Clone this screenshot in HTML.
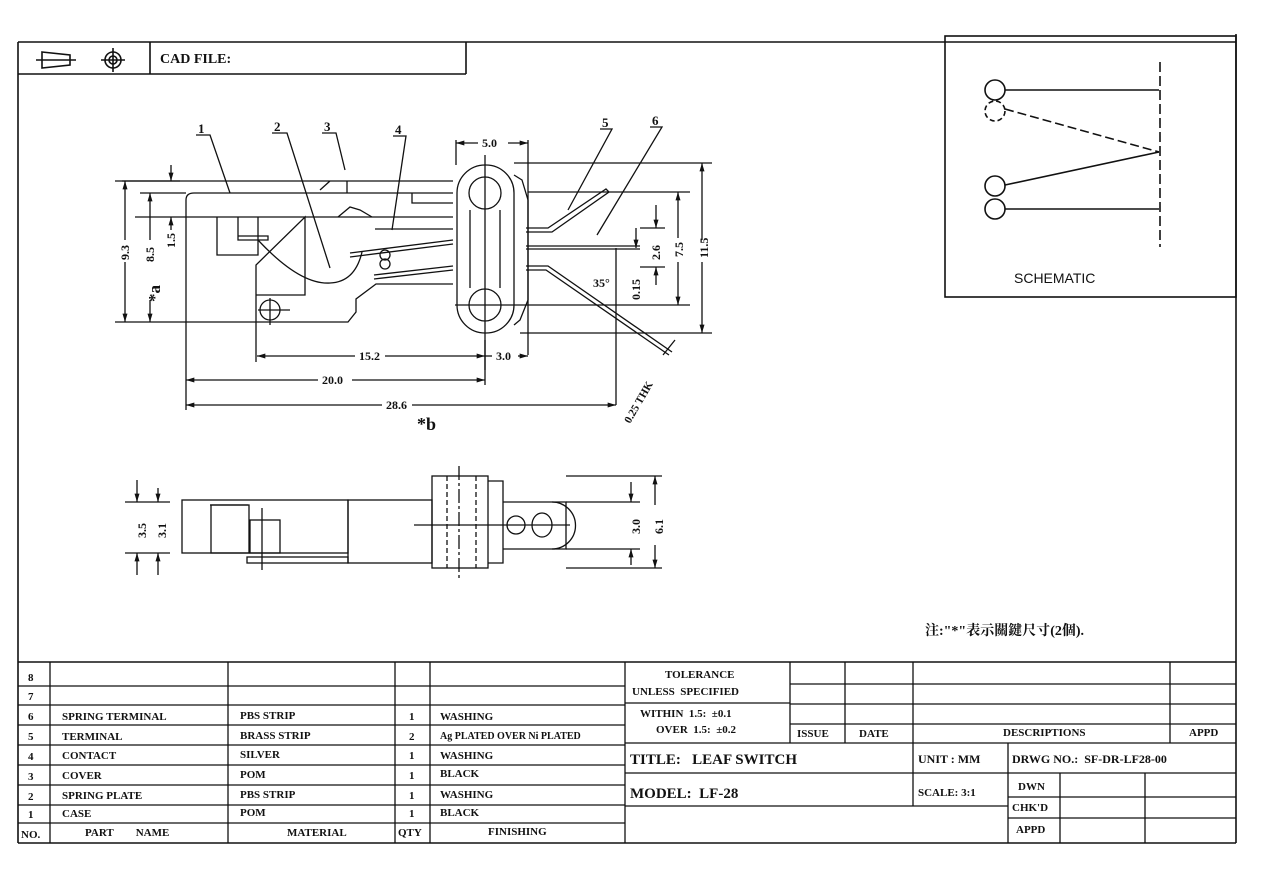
<!DOCTYPE html>
<html><head><meta charset="utf-8"><style>
html,body{margin:0;padding:0;background:#fff;}
svg{display:block;}
text{font-family:"Liberation Serif","Noto Serif CJK SC",serif;font-weight:bold;fill:#111;}
.s{font-family:"Liberation Sans",sans-serif;font-weight:normal;}
</style></head><body>
<svg width="1280" height="882" viewBox="0 0 1280 882" xmlns="http://www.w3.org/2000/svg">
<defs>
<marker id="a" viewBox="0 0 10 6" refX="10" refY="3" markerWidth="9" markerHeight="5" markerUnits="userSpaceOnUse" orient="auto-start-reverse"><path d="M0 0 L10 3 L0 6 Z" fill="#111"/></marker>
</defs>
<g stroke="#111" stroke-width="1.6" fill="none">
<line x1="18" y1="42" x2="1236" y2="42"/>
<line x1="18" y1="42" x2="18" y2="843"/>
<line x1="1236" y1="34" x2="1236" y2="843"/>
<line x1="18" y1="843" x2="1236" y2="843"/>
<line x1="18" y1="74" x2="466" y2="74"/>
<line x1="466" y1="42" x2="466" y2="74"/>
<line x1="150" y1="42" x2="150" y2="74"/>
<path d="M42 52 L70 55 L70 65 L42 68 Z"/><line x1="36" y1="60" x2="76" y2="60"/>
<circle cx="113" cy="60" r="8"/><circle cx="113" cy="60" r="4"/>
<line x1="101" y1="60" x2="125" y2="60"/><line x1="113" y1="48" x2="113" y2="72"/>
<rect x="945" y="36" width="291" height="261"/>
<circle cx="995" cy="90" r="10"/><circle cx="995" cy="111" r="10" stroke-dasharray="5,3"/>
<circle cx="995" cy="186" r="10"/><circle cx="995" cy="209" r="10"/>
<line x1="1005" y1="90" x2="1159" y2="90"/>
<line x1="1005" y1="109" x2="1159" y2="152" stroke-dasharray="9,4"/>
<line x1="1005" y1="185" x2="1159" y2="152"/>
<line x1="1005" y1="209" x2="1159" y2="209"/>
<line x1="1160" y1="62" x2="1160" y2="247" stroke-dasharray="10,4"/>

<g stroke-width="1.3">
<line x1="122" y1="181" x2="320" y2="181"/>
<path d="M320 181 L330 181 L320 190 M330 181 L453 181"/>
<path d="M186 200 Q186 193 194 193 L453 193"/>
<path d="M186 200 L186 322 L348 322 L356 312 L356 299 L376 284 L453 284"/>
<line x1="135" y1="217" x2="453" y2="217"/>
<path d="M217 217 L217 255 L258 255 L258 217"/>
<path d="M238 217 L238 240 L268 240 L268 236 L238 236"/>
<path d="M256 322 L256 265 L305 217 L305 295 L256 295 L256 265"/>
<path d="M258 240 Q300 285 330 283 Q355 282 362 252"/>
<path d="M350 253 L453 240"/><path d="M350 257 L453 244"/>
<path d="M374 275 L453 266"/><path d="M374 279 L453 270"/>
<path d="M375 229 L453 229"/>
<path d="M338 217 L350 207 L360 210 L372 217"/>
<path d="M347 193 L347 181"/>
<path d="M412 193 L412 203 L453 203"/>
<circle cx="385" cy="255" r="5"/><circle cx="385" cy="264" r="5"/>
<circle cx="270" cy="310" r="10"/>
<line x1="258" y1="310" x2="290" y2="310"/><line x1="270" y1="298" x2="270" y2="325"/>
<rect x="457" y="165" width="57" height="168" rx="28"/>
<circle cx="485" cy="193" r="16"/><circle cx="485" cy="305" r="16"/>
<line x1="470" y1="210" x2="470" y2="288"/><line x1="500" y1="210" x2="500" y2="288"/>
<path d="M514 175 L522 180 L528 200 L528 300 L520 320 L514 325"/>
<line x1="485" y1="155" x2="485" y2="370"/>
<path d="M526 228 L548 228 L606 189 L609 192 L552 232 L526 232"/>
<path d="M526 246 L640 246 M526 249 L640 249"/>
<path d="M526 266 L548 266 L672 352 M526 270 L546 270 L669 355"/>
<line x1="514" y1="163" x2="712" y2="163"/>
<line x1="520" y1="333" x2="712" y2="333"/>
<line x1="528" y1="192" x2="690" y2="192"/>
<line x1="455" y1="305" x2="690" y2="305"/>
<line x1="640" y1="228" x2="665" y2="228"/>
<line x1="640" y1="267" x2="665" y2="267"/>
<line x1="702" y1="240" x2="702" y2="163" marker-end="url(#a)"/><line x1="702" y1="262" x2="702" y2="333" marker-end="url(#a)"/>
<line x1="678" y1="238" x2="678" y2="192" marker-end="url(#a)"/><line x1="678" y1="262" x2="678" y2="305" marker-end="url(#a)"/>
<line x1="656" y1="205" x2="656" y2="228" marker-end="url(#a)"/><line x1="656" y1="285" x2="656" y2="267" marker-end="url(#a)"/>
<line x1="636" y1="228" x2="636" y2="248" marker-end="url(#a)"/>
<line x1="616" y1="248" x2="616" y2="405"/>
<line x1="456" y1="140" x2="456" y2="165"/><line x1="528" y1="140" x2="528" y2="355"/>
<line x1="478" y1="143" x2="456" y2="143" marker-end="url(#a)"/><line x1="508" y1="143" x2="528" y2="143" marker-end="url(#a)"/>
<line x1="115" y1="181" x2="180" y2="181"/>
<line x1="140" y1="193" x2="186" y2="193"/>
<line x1="115" y1="322" x2="186" y2="322"/>
<line x1="125" y1="240" x2="125" y2="181" marker-end="url(#a)"/><line x1="125" y1="262" x2="125" y2="322" marker-end="url(#a)"/>
<line x1="150" y1="240" x2="150" y2="193" marker-end="url(#a)"/><line x1="150" y1="300" x2="150" y2="322" marker-end="url(#a)"/>
<line x1="171" y1="165" x2="171" y2="181" marker-end="url(#a)"/><line x1="171" y1="230" x2="171" y2="217" marker-end="url(#a)"/>
<line x1="256" y1="322" x2="256" y2="362"/>
<line x1="186" y1="322" x2="186" y2="410"/>
<line x1="485" y1="340" x2="485" y2="385"/>
<line x1="355" y1="356" x2="257" y2="356" marker-end="url(#a)"/><line x1="385" y1="356" x2="485" y2="356" marker-end="url(#a)"/>
<line x1="492" y1="356" x2="485" y2="356"/><line x1="518" y1="356" x2="528" y2="356" marker-end="url(#a)"/>
<line x1="318" y1="380" x2="186" y2="380" marker-end="url(#a)"/><line x1="352" y1="380" x2="485" y2="380" marker-end="url(#a)"/>
<line x1="382" y1="405" x2="186" y2="405" marker-end="url(#a)"/><line x1="412" y1="405" x2="616" y2="405" marker-end="url(#a)"/>
<line x1="663" y1="355" x2="675" y2="340"/>
<path d="M196 135 L210 135 L230 193"/><path d="M272 133 L287 133 L330 268"/>
<path d="M322 133 L336 133 L345 170"/><path d="M393 136 L406 136 L392 230"/>
<path d="M600 129 L612 129 L568 210"/><path d="M650 127 L662 127 L597 235"/>
</g>
<g stroke-width="1.3">
<rect x="182" y="500" width="166" height="53"/>
<line x1="210" y1="505" x2="248" y2="505"/><rect x="211" y="505" width="38" height="48"/>
<rect x="250" y="520" width="30" height="33"/>
<rect x="247" y="557" width="101" height="6"/>
<line x1="262" y1="508" x2="262" y2="570"/>
<rect x="348" y="500" width="84" height="63"/>
<rect x="432" y="476" width="56" height="92"/>
<line x1="447" y1="476" x2="447" y2="568" stroke-dasharray="5,3"/>
<line x1="476" y1="476" x2="476" y2="568" stroke-dasharray="5,3"/>
<line x1="459" y1="466" x2="459" y2="580" stroke-dasharray="14,3,3,3"/>
<path d="M488 481 L503 481 L503 563 L488 563"/>
<path d="M503 502 L566 502 L566 549 L503 549"/>
<circle cx="516" cy="525" r="9"/>
<path d="M552 502 A 23 23 0 0 1 552 549"/>
<ellipse cx="542" cy="525" rx="10" ry="12"/>
<line x1="414" y1="525" x2="570" y2="525"/>
<line x1="125" y1="502" x2="170" y2="502"/><line x1="125" y1="553" x2="170" y2="553"/>
<line x1="137" y1="480" x2="137" y2="502" marker-end="url(#a)"/><line x1="137" y1="575" x2="137" y2="553" marker-end="url(#a)"/>
<line x1="158" y1="488" x2="158" y2="502" marker-end="url(#a)"/><line x1="158" y1="575" x2="158" y2="553" marker-end="url(#a)"/>
<line x1="566" y1="476" x2="662" y2="476"/><line x1="566" y1="568" x2="662" y2="568"/>
<line x1="566" y1="502" x2="640" y2="502"/><line x1="566" y1="549" x2="640" y2="549"/>
<line x1="631" y1="482" x2="631" y2="502" marker-end="url(#a)"/><line x1="631" y1="565" x2="631" y2="549" marker-end="url(#a)"/>
<line x1="655" y1="505" x2="655" y2="476" marker-end="url(#a)"/><line x1="655" y1="545" x2="655" y2="568" marker-end="url(#a)"/>
</g>

<line x1="18" y1="662" x2="1236" y2="662"/>
<g stroke-width="1.3">
<line x1="18" y1="686" x2="625" y2="686"/><line x1="18" y1="705" x2="625" y2="705"/>
<line x1="18" y1="725" x2="625" y2="725"/><line x1="18" y1="745" x2="625" y2="745"/>
<line x1="18" y1="765" x2="625" y2="765"/><line x1="18" y1="785" x2="625" y2="785"/>
<line x1="18" y1="805" x2="625" y2="805"/><line x1="18" y1="823" x2="625" y2="823"/>
<line x1="50" y1="662" x2="50" y2="843"/><line x1="228" y1="662" x2="228" y2="843"/>
<line x1="395" y1="662" x2="395" y2="843"/><line x1="430" y1="662" x2="430" y2="843"/>
<line x1="625" y1="662" x2="625" y2="843"/>
<line x1="790" y1="662" x2="790" y2="743"/><line x1="845" y1="662" x2="845" y2="743"/>
<line x1="913" y1="662" x2="913" y2="806"/><line x1="1170" y1="662" x2="1170" y2="743"/>
<line x1="625" y1="703" x2="790" y2="703"/>
<line x1="790" y1="684" x2="1236" y2="684"/><line x1="790" y1="704" x2="1236" y2="704"/>
<line x1="790" y1="724" x2="1236" y2="724"/>
<line x1="625" y1="743" x2="1236" y2="743"/>
<line x1="625" y1="773" x2="1236" y2="773"/>
<line x1="625" y1="806" x2="1008" y2="806"/>
<line x1="1008" y1="743" x2="1008" y2="843"/>
<line x1="1060" y1="773" x2="1060" y2="843"/><line x1="1145" y1="773" x2="1145" y2="843"/>
<line x1="1008" y1="797" x2="1236" y2="797"/><line x1="1008" y1="818" x2="1236" y2="818"/>
</g>
</g>

<g font-size="13">
<text x="160" y="63" font-size="14">CAD FILE:</text>
<text x="198" y="133">1</text><text x="274" y="131">2</text><text x="324" y="131">3</text><text x="395" y="134">4</text>
<text x="602" y="127">5</text><text x="652" y="125">6</text>
<text x="482" y="147" font-size="12">5.0</text>
<text x="359" y="360" font-size="12">15.2</text>
<text x="496" y="360" font-size="12">3.0</text>
<text x="322" y="384" font-size="12">20.0</text>
<text x="386" y="409" font-size="12">28.6</text>
<text x="417" y="430" font-size="18">*b</text>
<text x="593" y="287" font-size="12">35°</text>
<text transform="translate(129,260) rotate(-90)" font-size="12">9.3</text>
<text transform="translate(154,262) rotate(-90)" font-size="12">8.5</text>
<text transform="translate(175,248) rotate(-90)" font-size="12">1.5</text>
<text transform="translate(160,302) rotate(-90)" font-size="17">*a</text>
<text transform="translate(660,260) rotate(-90)" font-size="12">2.6</text>
<text transform="translate(640,300) rotate(-90)" font-size="12">0.15</text>
<text transform="translate(683,257) rotate(-90)" font-size="12">7.5</text>
<text transform="translate(708,258) rotate(-90)" font-size="12">11.5</text>
<text transform="translate(630,424) rotate(-60)" font-size="11">0.25 THK</text>
<text transform="translate(146,538) rotate(-90)" font-size="12">3.5</text>
<text transform="translate(166,538) rotate(-90)" font-size="12">3.1</text>
<text transform="translate(640,534) rotate(-90)" font-size="12">3.0</text>
<text transform="translate(663,534) rotate(-90)" font-size="12">6.1</text>
<text class="s" x="1014" y="283" font-size="14">SCHEMATIC</text>
<text x="925" y="635" font-size="14">注:"*"表示關鍵尺寸(2個).</text>
</g>
<g font-size="11">
<text x="28" y="681">8</text><text x="28" y="700">7</text><text x="28" y="720">6</text>
<text x="28" y="740">5</text><text x="28" y="760">4</text><text x="28" y="780">3</text>
<text x="28" y="800">2</text><text x="28" y="818">1</text><text x="21" y="838">NO.</text>
<text x="62" y="720">SPRING TERMINAL</text><text x="62" y="740">TERMINAL</text>
<text x="62" y="759">CONTACT</text><text x="62" y="779">COVER</text>
<text x="62" y="799">SPRING PLATE</text><text x="62" y="817">CASE</text>
<text x="85" y="836">PART&#160;&#160;&#160;&#160;&#160;&#160;&#160;&#160;NAME</text>
<text x="240" y="719">PBS STRIP</text><text x="240" y="739">BRASS STRIP</text>
<text x="240" y="758">SILVER</text><text x="240" y="778">POM</text>
<text x="240" y="798">PBS STRIP</text><text x="240" y="816">POM</text>
<text x="287" y="836">MATERIAL</text>
<text x="409" y="720">1</text><text x="409" y="740">2</text><text x="409" y="759">1</text>
<text x="409" y="779">1</text><text x="409" y="799">1</text><text x="409" y="817">1</text>
<text x="398" y="836">QTY</text>
<text x="440" y="720">WASHING</text><text x="440" y="739" font-size="10">Ag PLATED OVER Ni PLATED</text>
<text x="440" y="759">WASHING</text><text x="440" y="777">BLACK</text>
<text x="440" y="798">WASHING</text><text x="440" y="816">BLACK</text>
<text x="488" y="835">FINISHING</text>
<text x="665" y="678">TOLERANCE</text>
<text x="632" y="695">UNLESS&#160;&#160;SPECIFIED</text>
<text x="640" y="717">WITHIN&#160;&#160;1.5:&#160;&#160;±0.1</text>
<text x="656" y="733">OVER&#160;&#160;1.5:&#160;&#160;±0.2</text>
<text x="797" y="737">ISSUE</text><text x="859" y="737">DATE</text>
<text x="1003" y="736">DESCRIPTIONS</text><text x="1189" y="736">APPD</text>
<text x="630" y="764" font-size="15">TITLE:&#160;&#160;&#160;LEAF SWITCH</text>
<text x="630" y="798" font-size="15">MODEL:&#160;&#160;LF-28</text>
<text x="918" y="763" font-size="12">UNIT : MM</text>
<text x="918" y="796">SCALE: 3:1</text>
<text x="1012" y="763" font-size="12">DRWG NO.:&#160;&#160;SF-DR-LF28-00</text>
<text x="1018" y="790">DWN</text><text x="1012" y="811">CHK'D</text><text x="1016" y="833">APPD</text>
</g>
</svg>
</body></html>
